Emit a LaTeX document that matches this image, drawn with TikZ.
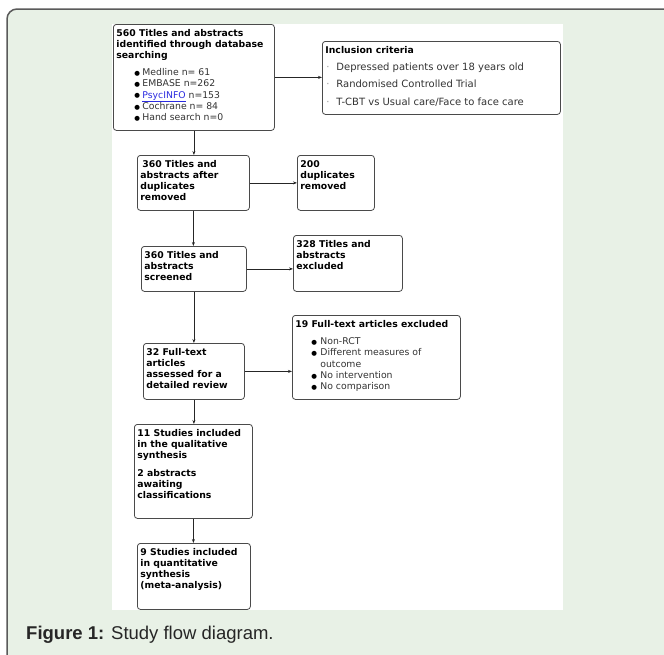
\documentclass[tikz,border=0pt]{standalone}
\usepackage{fontspec}
\setmainfont{DejaVu Sans}
\newfontfamily\capfont{Liberation Sans}
\usetikzlibrary{arrows.meta}
\definecolor{bggreen}{HTML}{E8F1E6}
\definecolor{framec}{HTML}{5A5A5A}
\definecolor{boxc}{HTML}{4A4A4A}
\definecolor{linkblue}{HTML}{2A2AE0}
\definecolor{txtgray}{HTML}{333333}
\definecolor{dotgray}{HTML}{999999}
\newcommand\bxtxt[3]{\parbox[c][#2pt][t]{#1pt}{\vspace*{5pt}\raggedright\leftskip=3pt\relax\parindent=0pt #3}}
\newcommand\hd[1]{{\bfseries\fontsize{9.3}{11}\selectfont #1\par}}
\newcommand\bigdot{\textcolor{black}{\raisebox{0.3pt}{\fontsize{6.5}{6}\selectfont ●}}}
\newcommand\bulA{\hspace*{18pt}\makebox[8pt][l]{\bigdot}}
\newcommand\bulB{\hspace*{16pt}\makebox[9pt][l]{\bigdot}}
\newcommand\dotC{\hspace*{1pt}\makebox[10pt][l]{\textcolor{dotgray}{·}}}
\tikzset{
  box/.style={draw=boxc, line width=0.8pt, rounded corners=3pt, fill=white, inner sep=0pt, anchor=north west},
  arr/.style={draw=black!85, line width=0.8pt, -{Stealth[length=4pt,width=3pt]}}
}
\begin{document}
\begin{tikzpicture}[x=1pt,y=-1pt]
\useasboundingbox (0,0) rectangle (664,654);
\clip (0,0) rectangle (664,654);
\fill[white] (0,0) rectangle (664,654);
\fill[bggreen, rounded corners=10pt] (7,700) -- (7,9) -- (700,9) -- (700,700) -- cycle;
\draw[framec, line width=1.5pt, rounded corners=10pt] (7,700) -- (7,9) -- (700,9);
\fill[white] (112,24) rectangle (563,610);

\node[box] (A) at (113,24) {\bxtxt{161}{106}{%
  \hd{560 Titles and abstracts\\ identified through database\\ searching}\vspace{5.7pt}
  {\fontsize{9.3}{11.3}\selectfont\color{txtgray}
  \bulA Medline n= 61\\
  \bulA EMBASE n=262\\
  \bulA\textcolor{linkblue}{\underline{PsycINFO}} n=153\\
  \bulA Cochrane n= 84\\
  \bulA Hand search n=0\par}}};

\node[box] (inc) at (322,41) {\bxtxt{238}{73}{%
  \hd{Inclusion criteria}\vspace{-0.5pt}
  {\fontsize{10}{17.5}\selectfont\color{txtgray}
  \dotC Depressed patients over 18 years old\\
  \dotC Randomised Controlled Trial\\
  \dotC T-CBT vs Usual care/Face to face care\par}}};

\node[box] (B) at (137,155) {\bxtxt{112}{55}{%
  \hd{\hspace*{2pt}360 Titles and\\ abstracts after\\ duplicates\\ removed}}};

\node[box] (dup) at (297,155) {\bxtxt{77}{55}{%
  \hd{200\\ duplicates\\ removed}}};

\node[box] (scr) at (141,246) {\bxtxt{105}{45}{%
  \hd{360 Titles and\\ abstracts\\ screened}}};

\node[box] (exc) at (293,235) {\bxtxt{109}{56}{%
  \hd{328 Titles and\\ abstracts\\ excluded}}};

\node[box] (ft) at (143,343) {\bxtxt{101}{56}{%
  \hd{32 Full-text\\ articles\\ assessed for a\\ detailed review}}};

\node[box] (ftx) at (292,315) {\bxtxt{168}{84}{%
  \hd{19 Full-text articles excluded}\vspace{5.7pt}
  {\fontsize{9.3}{11.3}\selectfont\color{txtgray}
  \bulB Non-RCT\\
  \bulB Different measures of\\
  \hspace*{25pt}outcome\\
  \bulB No intervention\\
  \bulB No comparison\par}}};

\node[box] (qual) at (134,424) {\bxtxt{118}{94}{%
  \hd{11 Studies included\\ in the qualitative\\ synthesis}\vspace{7pt}
  \hd{2 abstracts\\ awaiting\\ classifications}}};

\node[box] (quant) at (137,543) {\bxtxt{113}{66}{%
  \hd{9 Studies included\\ in quantitative\\ synthesis\\ (meta-analysis)}}};

\draw[arr] (A.south) -- (A.south |- B.north);
\draw[arr] (A.east) -- (A.east -| inc.west);
\draw[arr] (B.east) -- (B.east -| dup.west);
\draw[arr] (B.south) -- (B.south |- scr.north);
\draw[arr] (scr.east) -- (scr.east -| exc.west);
\draw[arr] (scr.south) -- (scr.south |- ft.north);
\draw[arr] (ft.east) -- (ft.east -| ftx.west);
\draw[arr] (ft.south) -- (ft.south |- qual.north);
\draw[arr] (qual.south) -- (qual.south |- quant.north);

\node[anchor=base west, inner sep=0pt, text=black!85, font=\capfont\fontsize{18.5}{20}\selectfont] (cap) at (26,639) {\textbf{Figure 1:} Study flow diagram.};
\end{tikzpicture}
\end{document}
